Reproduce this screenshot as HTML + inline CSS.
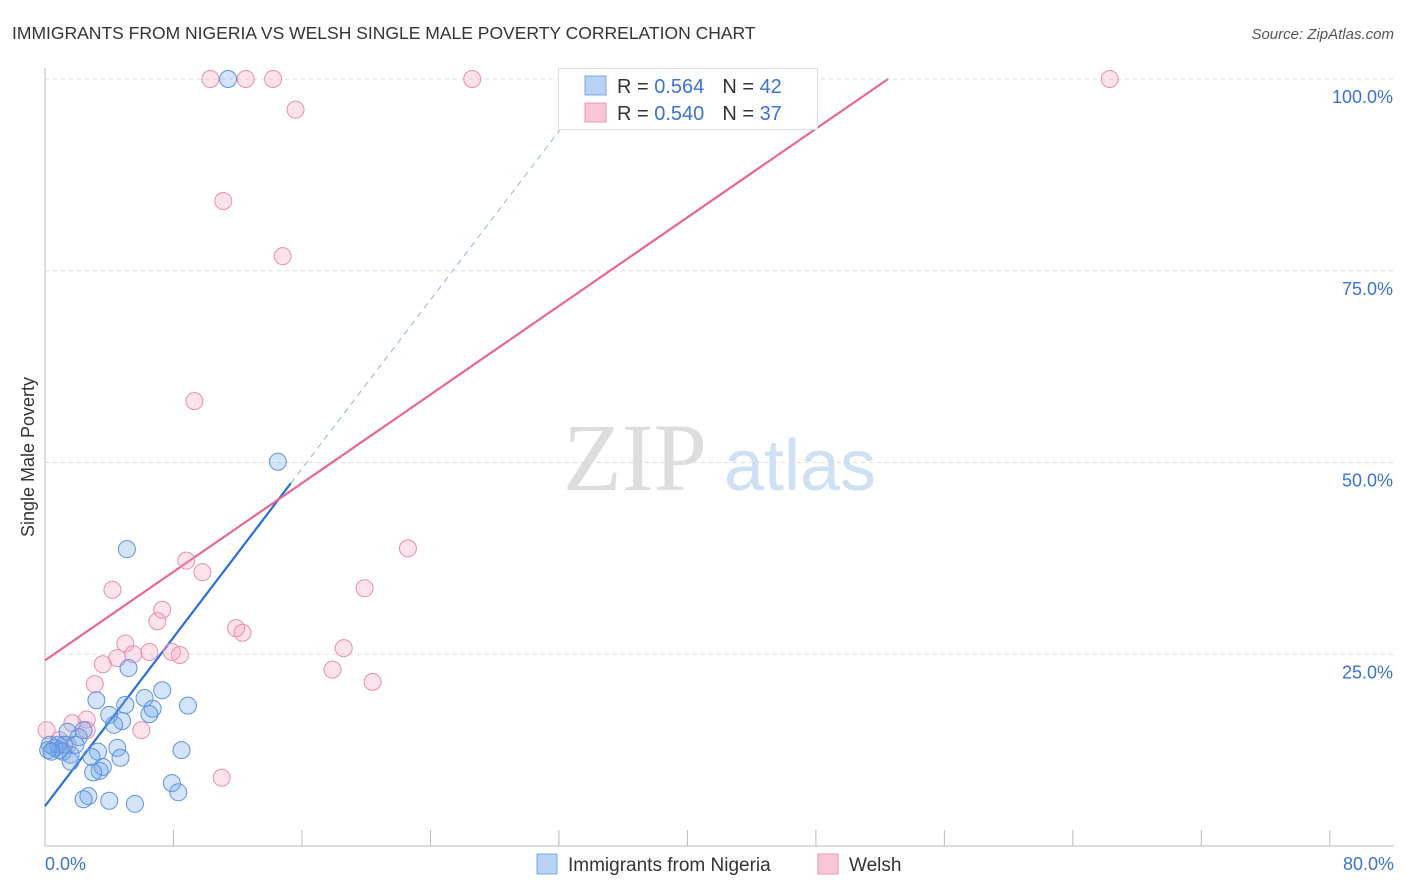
<!DOCTYPE html>
<html><head><meta charset="utf-8"><style>
body{margin:0;background:#fff;font-family:"Liberation Sans",sans-serif}
#wrap{position:relative;width:1406px;height:892px;overflow:hidden}
</style></head><body>
<div id="wrap">
<svg id="svg" width="1406" height="892" xmlns="http://www.w3.org/2000/svg">
<text x="12" y="39" font-size="17.5" fill="#333">IMMIGRANTS FROM NIGERIA VS WELSH SINGLE MALE POVERTY CORRELATION CHART</text>
<text x="1394" y="39" font-size="15" fill="#555" font-style="italic" text-anchor="end">Source: ZipAtlas.com</text>
<text x="34" y="457" font-size="18" fill="#333" text-anchor="middle" transform="rotate(-90 34 457)">Single Male Poverty</text>
<g><text x="635" y="490" font-size="96" fill="#ddd" font-family="Liberation Serif,serif" text-anchor="middle">ZIP</text><text x="800" y="490" font-size="72" fill="#cfe0f3" text-anchor="middle">atlas</text></g>
<g id="grid"></g><g id="axes"></g><g id="lines"></g><g id="pts"></g>
<g>
<rect x="558.5" y="68.5" width="259" height="61" fill="#fff" stroke="#ddd"/>
<rect x="585" y="76" width="21" height="19" fill="#b7d2f5" stroke="#7aa6e0"/>
<rect x="585" y="103" width="21" height="19" fill="#f9c6d6" stroke="#e995b2"/>
<text x="617" y="93" font-size="20" fill="#333">R = <tspan fill="#3a73d0">0.564</tspan><tspan dx="18">N = </tspan><tspan fill="#3a73d0">42</tspan></text>
<text x="617" y="120" font-size="20" fill="#333">R = <tspan fill="#3a73d0">0.540</tspan><tspan dx="18">N = </tspan><tspan fill="#3a73d0">37</tspan></text>
</g>
<g>
<rect x="537" y="854" width="20" height="20" fill="#b7d2f5" stroke="#7aa6e0"/>
<text x="568" y="871" font-size="19" fill="#333">Immigrants from Nigeria</text>
<rect x="818" y="854" width="20" height="20" fill="#f9c6d6" stroke="#e995b2"/>
<text x="849" y="871" font-size="19" fill="#333">Welsh</text>
</g>
</svg>
</div>
<script>
const yTicks=[25,50,75,100];
const yTickLabels=["25.0%","50.0%","75.0%","100.0%"];
const xTickLabels=["0.0%","80.0%"];
const nigeriaX=[11.4,14.5,5.1,5.2,3.2,7.3,6.2,8.9,4.0,5.0,6.7,6.5,4.8,4.3,2.4,1.4,2.1,4.5,3.3,8.5,0.6,0.9,1.6,2.9,4.7,1.6,3.6,3.4,3.0,7.9,8.3,2.7,2.4,4.0,5.6,0.3,0.8,0.2,1.2,1.9,1.1,0.4];
const nigeriaY=[100,50.1,38.7,23.2,19.0,20.3,19.3,18.3,17.1,18.4,17.9,17.2,16.3,15.8,15.1,14.9,14.2,12.8,12.3,12.5,12.8,12.5,11.9,11.6,11.5,11.0,10.3,9.8,9.6,8.2,7.0,6.5,6.1,5.9,5.5,13.2,13.2,12.5,13.2,13.2,12.3,12.3];
const welshX=[10.3,12.5,14.2,26.6,66.3,15.6,11.1,14.8,9.3,22.6,8.8,4.2,19.9,9.8,7.3,7.0,5.0,11.9,12.3,18.6,6.5,5.5,4.5,7.9,8.4,3.6,17.9,20.4,3.1,6.0,2.6,1.7,2.6,11.0,0.1,0.9,1.4];
const welshY=[100,100,100,100,100,96.0,84.1,76.9,58.0,38.8,37.2,33.4,33.6,35.7,30.8,29.3,26.4,28.4,27.8,25.8,25.3,25.0,24.5,25.3,24.9,23.7,23.0,21.4,21.1,15.1,16.5,16.0,15.1,8.9,15.1,13.8,13.2];
const nigeriaFit=[5.2,2.75];
const welshFit=[24.2,1.444];
const NS="http://www.w3.org/2000/svg";
const sx=v=>45+v*16.06, sy=v=>846-v*7.67;
function mk(t,a,p){const e=document.createElementNS(NS,t);for(const k in a)e.setAttribute(k,a[k]);p.appendChild(e);return e;}
const grid=document.getElementById('grid'),axes=document.getElementById('axes'),lines=document.getElementById('lines'),pts=document.getElementById('pts');
yTicks.forEach((t,i)=>{
const g=mk('line',{x1:45,x2:1394,y1:sy(t),y2:sy(t),stroke:'#ddd','stroke-dasharray':'4,4'},grid);


const l=mk('text',{x:1393,y:sy(t)+24,'font-size':18,fill:'#3a73d0','text-anchor':'end'},axes);l.textContent=yTickLabels[i];


});
mk('line',{x1:45,x2:45,y1:68,y2:846,stroke:'#bbb'},axes);
const xa=mk('line',{x1:45,x2:1394,y1:846,y2:846,stroke:'#bbb'},axes);


for(let i=0;i<=10;i++){mk('line',{x1:sx(i*8),x2:sx(i*8),y1:830,y2:846,stroke:'#bbb'},axes);}
const xl0=mk('text',{x:45,y:870,'font-size':18,fill:'#3a73d0'},axes);xl0.textContent=xTickLabels[0];


const xl1=mk('text',{x:1394,y:870,'font-size':18,fill:'#3a73d0','text-anchor':'end'},axes);xl1.textContent=xTickLabels[1];


function pt(xs,ys,fill,stroke,name){xs.forEach((x,i)=>{const c=mk('circle',{cx:sx(x),cy:sy(ys[i]),r:8.5,fill:fill,stroke:stroke,'stroke-width':1},pts);

});}
pt(welshX,welshY,'rgba(245,160,190,0.3)','#e98fae','welsh-point');
pt(nigeriaX,nigeriaY,'rgba(110,165,235,0.3)','#5f93da','nigeria-point');
// fits
const nEnd=(47.3-nigeriaFit[0])/nigeriaFit[1], nTop=(100-nigeriaFit[0])/nigeriaFit[1];
const bl=mk('line',{x1:sx(0),y1:sy(nigeriaFit[0]),x2:sx(nEnd),y2:sy(nigeriaFit[0]+nigeriaFit[1]*nEnd),stroke:'#2a6fd6','stroke-width':2.2},lines);


const bd=mk('line',{x1:sx(nEnd),y1:sy(nigeriaFit[0]+nigeriaFit[1]*nEnd),x2:sx(nTop),y2:sy(100),stroke:'#8fb3e6','stroke-width':1,'stroke-dasharray':'6,5'},lines);


const wTop=(100-welshFit[0])/welshFit[1];
const pl=mk('line',{x1:sx(0),y1:sy(welshFit[0]),x2:sx(wTop),y2:sy(100),stroke:'#e8668f','stroke-width':2.2},lines);


</script>
</body></html>
